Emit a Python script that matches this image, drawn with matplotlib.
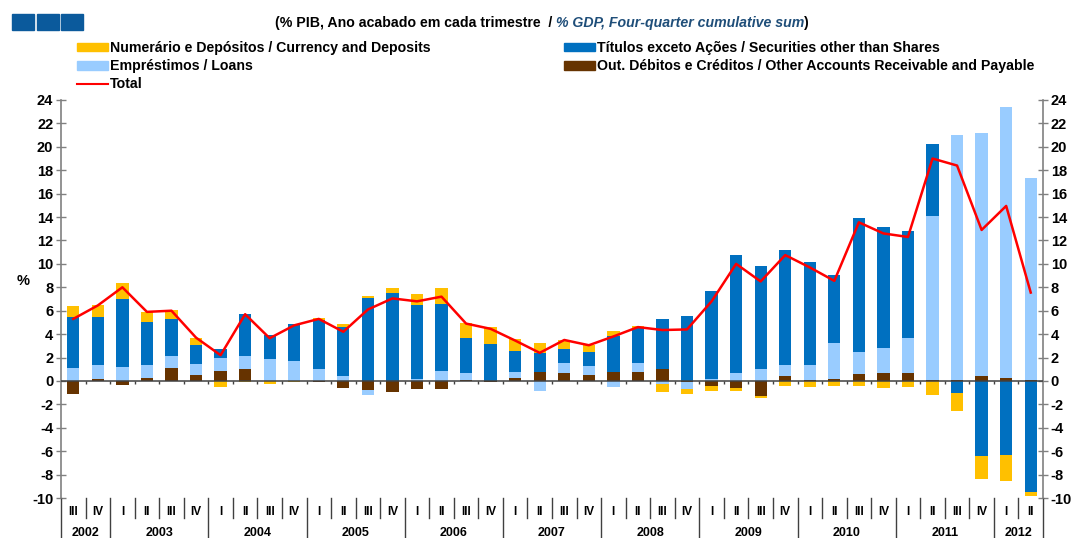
import numpy as np
import matplotlib.pyplot as plt
from matplotlib.patches import Patch, Rectangle
from matplotlib.lines import Line2D

plt.rcParams['font.family'] = ['Liberation Sans', 'DejaVu Sans']
plt.rcParams['axes.unicode_minus'] = False

# quarters 2002 III .. 2012 II
years = ['2002', '2003', '2004', '2005', '2006', '2007', '2008', '2009', '2010', '2011', '2012']
quarters = (['III', 'IV'] + ['I', 'II', 'III', 'IV'] * 9 + ['I', 'II'])

other = [-1.14, 0.15, -0.37, 0.25, 1.08, 0.51, 0.85, 1.0, 0.0, 0.0,
         -0.08, -0.62, -0.8, -0.94, -0.65, -0.65, 0.1, -0.05, 0.26, 0.77,
         0.68, 0.54, 0.77, 0.77, 1.0, -0.1, -0.43, -0.62, -1.28, 0.4,
         0.05, 0.15, 0.62, 0.65, 0.68, 0.05, 0.1, 0.43, 0.23, 0.1]
loans = [1.08, 1.24, 1.19, 1.1, 1.02, 0.97, 1.08, 1.16, 1.85, 1.7,
         1.0, 0.43, -0.39, 0.0, 0.2, 0.85, 0.61, 0.0, 0.54, -0.88,
         0.85, 0.77, -0.51, 0.74, -0.3, -0.55, 0.15, 0.65, 1.0, 0.96,
         1.35, 3.05, 1.82, 2.13, 3.01, 14.07, 20.87, 20.74, 23.21, 17.2]
securities = [4.37, 4.06, 5.77, 3.68, 3.21, 1.62, 0.77, 3.58, 2.05, 3.13,
              4.17, 4.2, 7.05, 7.47, 6.33, 5.74, 2.98, 3.18, 1.76, 1.65,
              1.2, 1.16, 3.07, 3.04, 4.31, 5.51, 7.52, 10.15, 8.86, 9.8,
              8.77, 5.83, 11.48, 10.37, 9.15, 6.11, -0.99, -6.45, -6.36, -9.52]
currency = [0.91, 1.0, 1.42, 0.85, 0.74, 0.59, -0.48, -0.1, -0.25, -0.12,
            0.23, 0.2, 0.22, 0.51, 0.91, 1.31, 1.28, 1.39, 0.99, 0.85,
            0.79, 0.57, 0.45, 0.11, -0.67, -0.46, -0.42, -0.23, -0.2, -0.4,
            -0.51, -0.45, -0.4, -0.57, -0.55, -1.16, -1.57, -1.93, -2.16, -0.34]
total = [5.3, 6.45, 8.0, 5.9, 6.0, 3.7, 2.2, 5.7, 3.65, 4.75,
         5.3, 4.2, 6.1, 7.05, 6.8, 7.2, 4.9, 4.45, 3.45, 2.4,
         3.5, 3.05, 3.8, 4.6, 4.35, 4.4, 6.8, 10.0, 8.5, 10.75,
         9.7, 8.55, 13.55, 12.6, 12.3, 19.0, 18.4, 12.9, 14.95, 7.55]

c_cur, c_loan, c_sec, c_oth = '#FFC000', '#99CCFF', '#0070C0', '#663300'

fig = plt.figure(figsize=(10.75, 5.38), dpi=100)
ax = fig.add_axes([61 / 1075, 1 - 498 / 538, (1043 - 61) / 1075, 398 / 538])

x = np.arange(len(total))
pos = np.zeros(len(x))
neg = np.zeros(len(x))
for vals, col in [(other, c_oth), (loans, c_loan), (securities, c_sec), (currency, c_cur)]:
    v = np.array(vals)
    base = np.where(v >= 0, pos, neg)
    ax.bar(x, v, bottom=base, width=0.5, color=col, edgecolor='none', zorder=2)
    pos = pos + np.where(v >= 0, v, 0)
    neg = neg + np.where(v < 0, v, 0)

ax.plot(x, total, color='#FF0000', lw=1.8, zorder=4)

ax.set_xlim(-0.5, len(x) - 0.5)
ax.set_ylim(-10, 24)
ax.set_yticks(range(-10, 25, 2))
ax.set_xticks([])
for s in ['top', 'bottom']:
    ax.spines[s].set_visible(False)
for s in ['left', 'right']:
    ax.spines[s].set_color('#808080')
    ax.spines[s].set_linewidth(1.2)
ax.tick_params(axis='y', direction='inout', length=7, width=1, color='#808080',
               labelsize=10.5, left=True, right=True, labelleft=True, labelright=True, pad=2)
for lab in ax.get_yticklabels():
    lab.set_fontweight('bold')

# zero line with small ticks between quarters
ax.axhline(0, color='#404040', lw=1.1, zorder=3)
ax.vlines(x[:-1] + 0.5, -0.28, 0, color='#404040', lw=1, zorder=3)

# % label
ax.text(-0.039, 0.545, '%', transform=ax.transAxes, ha='center', va='center',
        fontsize=10.5, fontweight='bold')

# category axis below
tr = ax.get_xaxis_transform()
for i, q in enumerate(quarters):
    ax.text(i, -0.036, q, transform=tr, ha='center', va='center', fontsize=8.5, fontweight='bold')
year_start = [0, 2, 6, 10, 14, 18, 22, 26, 30, 34, 38]
year_len = [2, 4, 4, 4, 4, 4, 4, 4, 4, 4, 2]
for i in range(len(x) + 1):
    is_year = (i in year_start) or i == len(x)
    ax.plot([i - 0.5, i - 0.5], [0, -0.11 if is_year else -0.05], transform=tr,
            color='#404040', lw=1, clip_on=False)
for yr, st, ln in zip(years, year_start, year_len):
    ax.text(st + ln / 2 - 0.5, -0.088, yr, transform=tr, ha='center', va='center',
            fontsize=9, fontweight='bold')

# header squares
for k in range(3):
    fig.patches.append(Rectangle(((12 + 24.5 * k) / 1075, 1 - 30 / 538), 22 / 1075, 16 / 538,
                                 transform=fig.transFigure, color='#0B5A9C'))

# title
ty = 1 - 23 / 538
fig.text(0.517, ty, '(% PIB, Ano acabado em cada trimestre  / ', ha='right',
         va='center', fontsize=10.2, fontweight='bold')
t2 = fig.text(0.517, ty, '% GDP, Four-quarter cumulative sum', ha='left', va='center',
              fontsize=10.2, fontweight='bold', style='italic', color='#1F4E79')
fig.canvas.draw()
bb = t2.get_window_extent()
fig.text(bb.x1 / fig.bbox.width, ty, ')', ha='left', va='center', fontsize=10.2,
         fontweight='bold')

# legends
h_cur = Patch(color=c_cur, label='Numerário e Depósitos / Currency and Deposits')
h_loan = Patch(color=c_loan, label='Empréstimos / Loans')
h_tot = Line2D([], [], color='#FF0000', lw=1.5, label='Total')
h_sec = Patch(color=c_sec, label='Títulos exceto Ações / Securities other than Shares')
h_oth = Patch(color=c_oth, label='Out. Débitos e Créditos / Other Accounts Receivable and Payable')
kw = dict(frameon=False, prop={'weight': 'bold', 'size': 10.2}, handlelength=2.2,
          handleheight=0.55, handletextpad=0.15, labelspacing=0.3, borderpad=0, borderaxespad=0)
fig.legend(handles=[h_cur, h_loan, h_tot], loc='upper left',
           bbox_to_anchor=(77 / 1075, 1 - 41 / 538), **kw)
fig.legend(handles=[h_sec, h_oth], loc='upper left',
           bbox_to_anchor=(564 / 1075, 1 - 41 / 538), **kw)

fig.savefig('out.png', dpi=100)
